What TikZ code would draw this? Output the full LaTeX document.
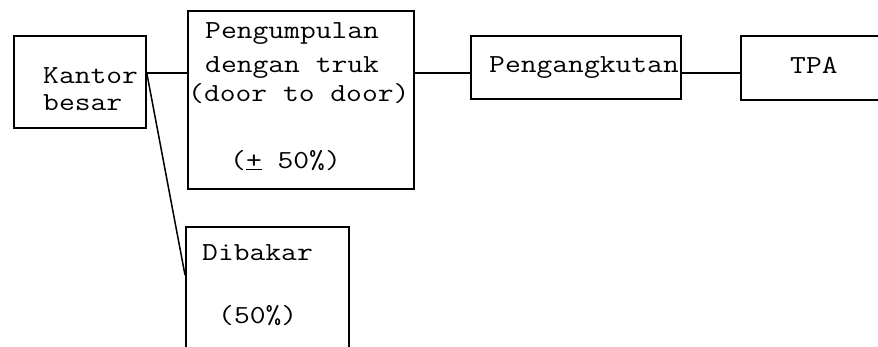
\documentclass[tikz,border=0pt]{standalone}
\usepackage{fontspec}
\newfontfamily\tw{Latin Modern Mono}[FakeStretch=1.18]
\begin{document}
\begin{tikzpicture}[x=1pt,y=-1pt,
  box/.style={draw=black,line width=1.6pt,rectangle,inner sep=0pt,anchor=north west},
  txt/.style={anchor=base west,inner sep=0pt,font=\tw\fontsize{26}{30}\selectfont},
  link/.style={draw=black,line width=1.5pt}]
\clip (0,0) rectangle (878,346);
\fill[white] (0,0) rectangle (878,346);

% boxes
\node[box,minimum width=132pt,minimum height=92pt] (kantor) at (13,35) {};
\node[box,minimum width=226pt,minimum height=178pt] (kumpul) at (187,10) {};
\node[box,minimum width=210pt,minimum height=63pt] (angkut) at (470,35) {};
\node[box,minimum width=146pt,minimum height=64pt] (tpa) at (740,35) {};
\node[box,minimum width=163pt,minimum height=140pt] (bakar) at (185,226) {};

% labels
\node[txt] (t1) at (43,83) {Kantor};
\node[txt] (t2) at (43,110) {besar};
\node[txt] (t3) at (205,38) {Pengumpulan};
\node[txt] (t4) at (205,72) {dengan truk};
\node[txt] (t5) at (188,101) {(door to door)};
\node[txt] (t6) at (230,168) {(\underline{+} 50\%)};
\node[txt] (t7) at (489,72) {Pengangkutan};
\node[txt] (t8) at (790,73) {TPA};
\node[txt] (t9) at (202,260) {Dibakar};
\node[txt] (t10) at (218,323) {(50\%)};

% connectors
\coordinate (row) at (0,73);
\coordinate (tilt) at (0,72);
\coordinate (foot) at (0,275);
\draw[link] (kantor.east |- row) -- (kumpul.west |- row);
\draw[link] (kumpul.east |- row) -- (angkut.west |- row);
\draw[link] (angkut.east |- row) -- (tpa.west |- row);
\draw[link] (kantor.east |- tilt) -- (bakar.west |- foot);
\end{tikzpicture}
\end{document}
